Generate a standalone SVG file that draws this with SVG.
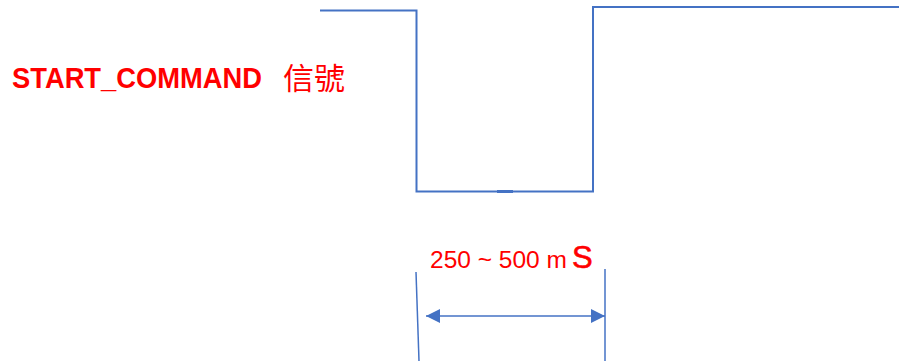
<svg xmlns="http://www.w3.org/2000/svg" width="899" height="362" viewBox="0 0 899 362">
<style>
.sig{fill:none;stroke:#4472C4;stroke-width:2}
.dim{fill:none;stroke:#4472C4;stroke-width:1.5}
.lbl{fill:#FF0000;font-family:"Liberation Sans","Noto Sans CJK TC",sans-serif}
</style>
<defs>
<marker id="ah" viewBox="0 0 10 10" refX="10" refY="5" markerWidth="15" markerHeight="14" markerUnits="userSpaceOnUse" orient="auto-start-reverse">
<path d="M0,0 L10,5 L0,10 Z" fill="#4472C4"/>
</marker>
</defs>
<g id="signal">
<path class="sig" d="M320,10.5 H416.5 V191.5 H593 V7 H899"/>
<line x1="497" y1="191.5" x2="513" y2="191.5" stroke="#4472C4" stroke-width="3"/>
</g>
<g id="label-signal">
<text class="lbl" x="12" y="88" font-size="29" font-weight="bold" textLength="250" lengthAdjust="spacingAndGlyphs">START_COMMAND</text>
<text class="lbl" x="283" y="89" font-size="30" textLength="62" lengthAdjust="spacingAndGlyphs">信號</text>
</g>
<g id="connectors">
<line class="dim" x1="416" y1="272" x2="419" y2="361"/>
<line class="dim" x1="605" y1="269" x2="605" y2="361"/>
<line class="dim" x1="426" y1="316" x2="605" y2="316" marker-start="url(#ah)" marker-end="url(#ah)"/>
</g>
<g id="label-duration">
<text class="lbl" x="430" y="268" font-size="24.5">250 ~ 500 m</text>
<text class="lbl" x="572" y="268" font-size="31" stroke="#FF0000" stroke-width="0.6">S</text>
</g>
</svg>
